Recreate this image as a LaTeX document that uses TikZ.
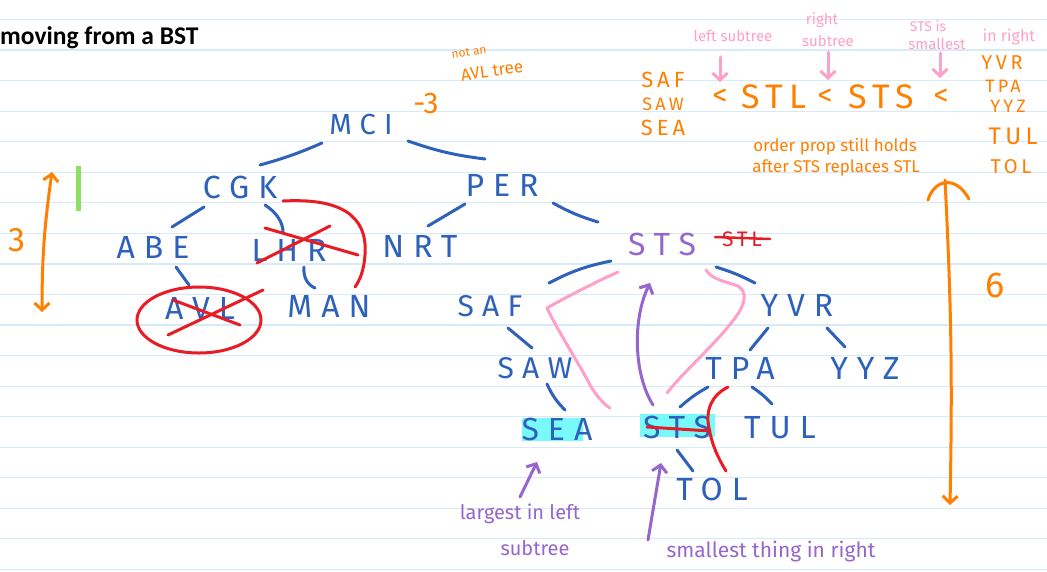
\documentclass[tikz,border=0pt]{standalone}
\usepackage{fontspec}
\setmainfont{Fira Sans}
\newfontfamily\titlefont{Carlito}
\newfontfamily\treefont{Fira Sans}[LetterSpace=28]
\newfontfamily\spfont{Fira Sans}[LetterSpace=18]
\newfontfamily\handfont{Fira Sans}
\usetikzlibrary{arrows.meta,backgrounds}
\definecolor{tblue}{RGB}{46,98,186}
\definecolor{tpurple}{RGB}{150,102,204}
\definecolor{tred}{RGB}{232,28,36}
\definecolor{torange}{RGB}{255,127,0}
\definecolor{tpink}{RGB}{255,160,200}
\definecolor{tcyan}{RGB}{120,250,250}
\definecolor{tgreen}{RGB}{140,225,100}
\definecolor{rulecol}{RGB}{214,234,248}
\newcommand{\fsz}[1]{\fontsize{#1}{#1}\selectfont}
\tikzset{hbarb/.tip={Straight Barb[length=7pt,width=15pt]}}
\begin{document}
\begin{tikzpicture}[x=1pt,y=-1pt,
  tree/.style={font=\treefont\fsz{32}, text=tblue, inner sep=0pt},
  edge/.style={draw=tblue, line width=3pt, line cap=round},
  redpen/.style={draw=tred, line width=3pt, line cap=round, line join=round},
  pinkpen/.style={draw=tpink, line width=3pt, line cap=round, line join=round},
  purplepen/.style={draw=tpurple, line width=3pt, line cap=round, line join=round},
  orangepen/.style={draw=torange, line width=3pt, line cap=round, line join=round},
  otext/.style={text=torange, inner sep=0pt},
  ptext/.style={text=tpurple, inner sep=0pt, font=\handfont\fsz{21}},
  ktext/.style={text=tpink, inner sep=0pt, font=\handfont\fsz{15}}]
\useasboundingbox (0,0) rectangle (1047,571);
\begin{scope}[on background layer]
  \fill[white] (0,0) rectangle (1047,571);
  \foreach \k in {0,...,18} {
    \draw[rulecol, line width=1.2pt] (0,{19.5+30.55*\k}) -- (1047,{19.5+30.55*\k});
  }
\end{scope}

% title
\node[anchor=base west, font=\titlefont\bfseries\fsz{25.5}, inner sep=0pt] (title) at (0,44) {moving from a BST};

% tree nodes
\node[tree, font=\treefont\fsz{29}] (MCI) at (361,125) {MCI};
\node[tree] (CGK) at (240,187) {CGK};
\node[tree] (PER) at (502,185) {PER};
\node[tree] (ABE) at (153,247) {ABE};
\node[tree] (LHR) at (289,250) {LHR};
\node[tree] (NRT) at (420,246) {NRT};
\node[tree] (AVL) at (200,308) {AVL};
\node[tree] (MAN) at (329,306) {MAN};
\node[tree, text=tpurple] (STS) at (662,244) {STS};
\node[tree, text=tred, font=\spfont\fsz{21}] (STL) at (742,239) {STL};
\node[tree, font=\treefont\fsz{30}] (SAF) at (490,306) {SAF};
\node[tree] (YVR) at (797,305) {YVR};
\node[tree, font=\treefont\fsz{30}] (SAW) at (535,368) {SAW};
\node[tree] (TPA) at (740,368) {TPA};
\node[tree] (YYZ) at (865,368) {YYZ};
\node[tree] (SEA) at (557,429) {SEA};
\node[tree] (STSb) at (677,427) {STS};
\node[tree] (TUL) at (780,428) {TUL};
\node[tree] (TOL) at (712,489) {TOL};

% highlights
\begin{scope}[on background layer]
  \fill[tcyan] ([shift={(-35,-11)}]SEA.center) rectangle ([shift={(26,12)}]SEA.center);
  \fill[tcyan] ([shift={(-37,-13)}]STSb.center) rectangle ([shift={(38,10)}]STSb.center);
\end{scope}

% tree edges
\draw[edge] ([shift={(-39,18)}]MCI.center) to[bend left=4] ([shift={(20,-22)}]CGK.center);
\draw[edge] ([shift={(47,16)}]MCI.center) to[bend right=6] ([shift={(-17,-26)}]PER.center);
\draw[edge] ([shift={(-36,20)}]CGK.center) -- ([shift={(19,-20)}]ABE.center);
\draw[edge] ([shift={(25,18)}]CGK.center) .. controls (276,212) and (283,222) .. ([shift={(-6,-18)}]LHR.center);
\draw[edge] ([shift={(-37,19)}]PER.center) -- ([shift={(8,-20)}]NRT.center);
\draw[edge] ([shift={(51,18)}]PER.center) to[bend right=6] ([shift={(-64,-22)}]STS.center);
\draw[edge] ([shift={(23,20)}]ABE.center) -- ([shift={(-11,-23)}]AVL.center);
\draw[edge] ([shift={(15,17)}]LHR.center) .. controls (303,278) and (308,285) .. ([shift={(-14,-18)}]MAN.center);
\draw[edge] ([shift={(-51,17)}]STS.center) to[bend right=8] ([shift={(59,-23)}]SAF.center);
\draw[edge] ([shift={(54,23)}]STS.center) to[bend left=5] ([shift={(-42,-22)}]YVR.center);
\draw[edge] ([shift={(18,22)}]SAF.center) -- ([shift={(-3,-20)}]SAW.center);
\draw[edge] ([shift={(12,16)}]SAW.center) to[bend right=10] ([shift={(8,-19)}]SEA.center);
\draw[edge] ([shift={(-29,23)}]YVR.center) -- ([shift={(10,-18)}]TPA.center);
\draw[edge] ([shift={(30,23)}]YVR.center) -- ([shift={(-20,-21)}]YYZ.center);
\draw[edge] ([shift={(-32,19)}]TPA.center) to[bend right=6] ([shift={(3,-20)}]STSb.center);
\draw[edge] ([shift={(12,19)}]TPA.center) to[bend left=6] ([shift={(-8,-24)}]TUL.center);
\draw[edge] ([shift={(0,23)}]STSb.center) -- ([shift={(-19,-18)}]TOL.center);

% red marks
\draw[redpen] ([shift={(-24,-22)}]LHR.center) -- ([shift={(69,5)}]LHR.center);
\draw[redpen] ([shift={(-32,13)}]LHR.center) -- ([shift={(41,-24)}]LHR.center);
\draw[redpen] ([shift={(43,14)}]CGK.center) .. controls (340,198) and (368,215) .. (365,255)
  .. controls (364,270) and (360,280) .. ([shift={(26,-19)}]MAN.center);
\draw[redpen] ([shift={(-1,12)}]AVL.center) ellipse [x radius=62pt, y radius=33pt];
\draw[redpen] ([shift={(-27,-8)}]AVL.center) -- ([shift={(40,17)}]AVL.center);
\draw[redpen] ([shift={(-32,27)}]AVL.center) -- ([shift={(63,-18)}]AVL.center);
\draw[redpen, line width=2.5pt] ([shift={(-27,-2)}]STL.center) -- ([shift={(28,0)}]STL.center);
\draw[redpen] ([shift={(-30,0)}]STSb.center) -- ([shift={(33,4)}]STSb.center);
\draw[redpen] ([shift={(-12,19)}]TPA.center) .. controls (712,395) and (705,410) .. (709,428)
  .. controls (712,445) and (718,458) .. ([shift={(14,-18)}]TOL.center);

% pink traces
\draw[pinkpen] ([shift={(-44,28)}]STS.center) .. controls (600,280) and (570,295) .. (547,308)
  .. controls (560,335) and (580,365) .. (590,385)
  .. controls (597,397) and (605,405) .. ([shift={(-67,-19)}]STSb.center);
\draw[pinkpen] ([shift={(44,26)}]STS.center) .. controls (712,280) and (728,282) .. (738,286)
  .. controls (748,292) and (745,305) .. (735,318)
  .. controls (715,345) and (685,370) .. ([shift={(-10,-34)}]STSb.center);

% purple arrow STS -> STS
\draw[purplepen, -{hbarb}] ([shift={(-24,-22)}]STSb.center) .. controls (634,375) and (632,320) .. ([shift={(-12,39)}]STS.center);

% purple notes
\node[ptext, font=\handfont\fsz{20}] (largest) at (520,514) {largest in left};
\node[ptext, font=\handfont\fsz{20}] (lsubtree) at (535,548) {subtree};
\node[ptext] (smallest) at (771,552) {smallest thing in right};
\draw[purplepen, -{hbarb}] ([shift={(0,-17)}]largest.center) -- ([shift={(-20,33)}]SEA.center);
\draw[purplepen, -{hbarb}] ([shift={(-123,-12)}]smallest.center) -- ([shift={(-16,36)}]STSb.center);

% orange notes
\node[otext, font=\handfont\fsz{30}] (minus3) at (426,103) {-3};
\node[otext, font=\handfont\fsz{12}, rotate=8] (notan) at (469,52) {not an};
\node[otext, font=\handfont\fsz{17}, rotate=8] (avltree) at (492,71) {AVL tree};
\node[otext, font=\spfont\fsz{22}] (oSAF) at (663,80) {SAF};
\node[otext, font=\spfont\fsz{18}] (oSAW) at (663,104) {SAW};
\node[otext, font=\spfont\fsz{22}] (oSEA) at (663,128) {SEA};
\node[otext, font=\handfont\fsz{30}] (lt1) at (720,97) {<};
\node[otext, font=\spfont\fsz{34}] (oSTL) at (774,97) {STL};
\node[otext, font=\handfont\fsz{30}] (lt2) at (825,97) {<};
\node[otext, font=\spfont\fsz{34}] (oSTS) at (881,97) {STS};
\node[otext, font=\handfont\fsz{30}] (lt3) at (941,97) {<};
\node[otext, font=\spfont\fsz{20}] (oYVR) at (1002,63) {YVR};
\node[otext, font=\spfont\fsz{18}] (oTPA) at (1003,86) {TPA};
\node[otext, font=\spfont\fsz{18}] (oYYZ) at (1008,106) {YYZ};
\node[otext, font=\spfont\fsz{24}] (oTUL) at (1013,136) {TUL};
\node[otext, font=\spfont\fsz{20}] (oTOL) at (1011,167) {TOL};
\node[otext, font=\handfont\fsz{17}] (order) at (835,147) {order prop still holds};
\node[otext, font=\handfont\fsz{17}] (after) at (836,168) {after STS replaces STL};
\node[otext, font=\handfont\fsz{34}] (three) at (17,240) {3};
\node[otext, font=\handfont\fsz{36}] (six) at (995,285) {6};

% pink notes
\node[ktext] (lsub) at (733,36) {left subtree};
\node[ktext] (rsub1) at (822,20) {right};
\node[ktext] (rsub2) at (828,41) {subtree};
\node[ktext, font=\handfont\fsz{14}] (stsis) at (928,26) {STS is};
\node[ktext] (smallestk) at (937,44) {smallest};
\node[ktext, font=\handfont\fsz{16}] (inright) at (1009,37) {in right};
\draw[pinkpen, -{hbarb}] ([shift={(-13,21)}]lsub.center) -- ([shift={(0,-15)}]lt1.center);
\draw[pinkpen, -{hbarb}] ([shift={(0,11)}]rsub2.center) -- ([shift={(3,-17)}]lt2.center);
\draw[pinkpen, -{hbarb}] ([shift={(3,9)}]smallestk.center) -- ([shift={(-1,-19)}]lt3.center);

% orange height arrows
\coordinate (la) at (52,172);
\coordinate (lb) at (42,312);
\draw[orangepen, {hbarb}-{hbarb}] (la) to[bend right=4] (lb);
\coordinate (ra) at (945,180);
\coordinate (rb) at (950,505);
\draw[orangepen, -{hbarb}] (ra) to[bend left=2] (rb);
\draw[orangepen] (928,200) .. controls (934,180) and (955,174) .. (969,199);

% green mark
\draw[draw=tgreen, line width=5pt] (78,166) -- (78,211);
\end{tikzpicture}
\end{document}
